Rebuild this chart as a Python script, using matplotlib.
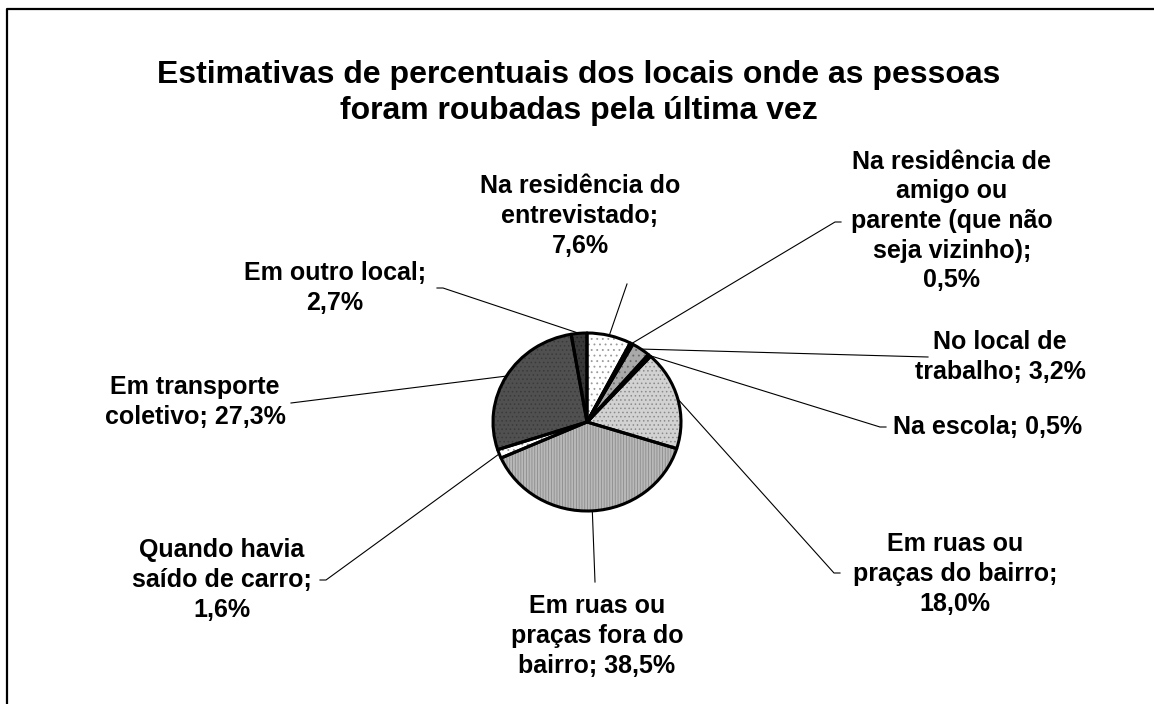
import numpy as np
import matplotlib
matplotlib.use("Agg")
import matplotlib.pyplot as plt

# Data
names = ["Na residência do\nentrevistado;",
         "Na residência de\namigo ou\nparente (que não\nseja vizinho);",
         "No local de\ntrabalho;",
         "Na escola;",
         "Em ruas ou\npraças do bairro;",
         "Em ruas ou\npraças fora do\nbairro;",
         "Quando havia\nsaído de carro;",
         "Em transporte\ncoletivo;",
         "Em outro local;"]
values = [7.6, 0.5, 3.2, 0.5, 18.0, 38.5, 1.6, 27.3, 2.7]
pct_sep = ["\n", "\n", " ", " ", "\n", " ", "\n", " ", "\n"]

faces = ["#ffffff", "#2a2a2a", "#a9a9a9", "#3b2f3b", "#d2d2d2",
         "#b9b9b9", "#ffffff", "#505050", "#383838"]
hatch_cols = ["#9a9a9a", "#2a2a2a", "#6a6a6a", "#3b2f3b", "#8a8a8a",
              "#8c8c8c", "#9a9a9a", "#3a3a3a", "#222222"]
hatches = ["...", None, "...", None, "....", "||||||", "...", "....", "...."]

# layout (pixels)
W, H = 1154, 704
cx, cy, rx, ry = 587, 422, 94, 89
label_pos = [(580, 216), (952, 221), (1000, 357), (893, 427), (955, 574),
             (597, 636), (222, 580), (195, 402), (335, 288)]
label_ha = ["center", "center", "center", "left", "center",
            "center", "center", "center", "center"]
anchors = [(627, 284), (835, 222), (928, 357), (880, 427), (834, 573),
           (595, 582), (326, 580), (291, 403), (443, 288)]
ticks = [0, 6, 0, 6, 6, 0, -6, 0, -6]

plt.rcParams["font.family"] = ["Liberation Sans", "DejaVu Sans"]
plt.rcParams["hatch.linewidth"] = 0.6

fig = plt.figure(figsize=(W / 100, H / 100), dpi=100)
ax = fig.add_axes([0, 0, 1, 1])
ax.set_xlim(0, W)
ax.set_ylim(H, 0)
ax.axis("off")

# frame
ax.plot([7, 7, W + 5], [H + 5, 9, 9], color="black", lw=1.6)

ax.text(579, 93, "Estimativas de percentuais dos locais onde as pessoas\n"
        "foram roubadas pela última vez", ha="center", va="center",
        fontsize=23, fontweight="bold", linespacing=1.3)

pax = fig.add_axes([(cx - rx) / W, 1 - (cy + ry) / H, 2 * rx / W, 2 * ry / H])
wedges, _ = pax.pie(values, startangle=90, counterclock=False,
                    colors=faces,
                    wedgeprops=dict(linewidth=0))
for w, hc, hp in zip(wedges, hatch_cols, hatches):
    if hp:
        w.set_hatch(hp)
        w.set_edgecolor(hc)
pax.pie(values, startangle=90, counterclock=False,
        colors=["none"] * len(values),
        wedgeprops=dict(linewidth=2.2, edgecolor="black", joinstyle="round"))
pax.set_aspect("auto")
pax.set_xlim(-1.0, 1.0)
pax.set_ylim(-1.0, 1.0)

for w, name, v, sep, (lx, ly), ha, (axx, ayy), t in zip(
        wedges, names, values, pct_sep, label_pos, label_ha, anchors, ticks):
    mid = np.deg2rad((w.theta1 + w.theta2) / 2)
    ex = cx + rx * np.cos(mid)
    ey = cy - ry * np.sin(mid)
    txt = name + sep + f"{v:.1f}".replace(".", ",") + "%"
    ax.text(lx, ly, txt, ha=ha, va="center", fontsize=18,
            fontweight="bold", linespacing=1.3, multialignment="center")
    if t:
        ax.plot([ex, axx, axx + t], [ey, ayy, ayy], color="black", lw=0.8)
    else:
        ax.plot([ex, axx], [ey, ayy], color="black", lw=0.8)

fig.savefig("out.png", dpi=100)
